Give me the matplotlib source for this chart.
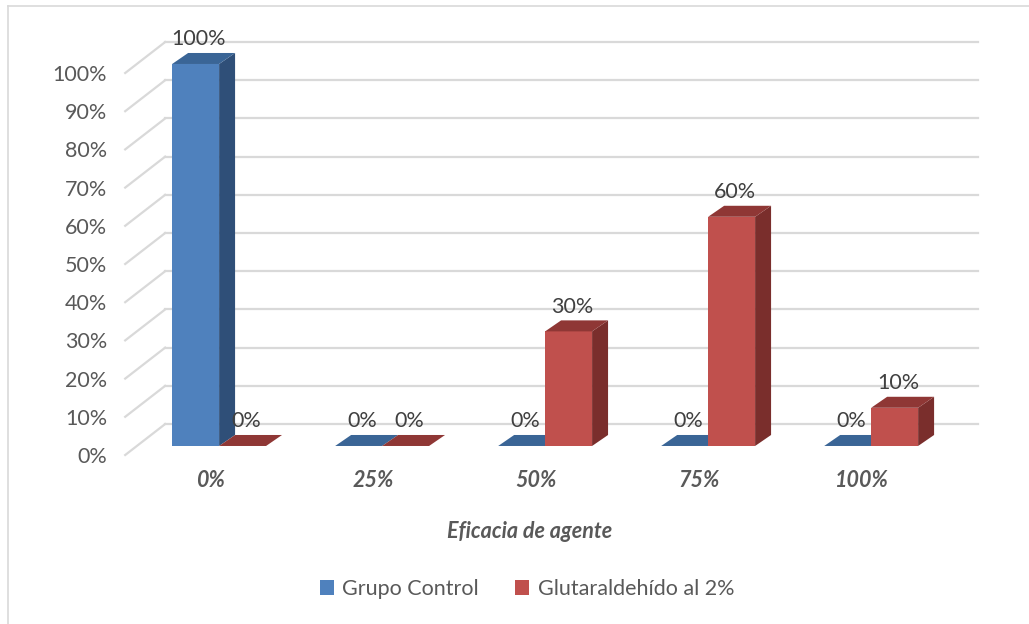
import matplotlib
matplotlib.use("Agg")
import matplotlib.pyplot as plt
from matplotlib.patches import Polygon, Patch
from matplotlib.lines import Line2D

# Data
categories = ["0%", "25%", "50%", "75%", "100%"]
grupo_control = [100, 0, 0, 0, 0]
glutaraldehido = [0, 0, 30, 60, 10]
series_names = ["Grupo Control", "Glutaraldehído al 2%"]
y_ticks = [0, 10, 20, 30, 40, 50, 60, 70, 80, 90, 100]

plt.rcParams['font.family'] = ['Lato', 'DejaVu Sans']

# 3D look parameters (data units: x = category, y = percent)
WALL_DX, WALL_DY = 0.245, 8.1     # depth of side wall
BAR_DX0, BAR_DY0 = 0.056, 2.36    # bar front plane offset from floor front
BAR_DX, BAR_DY = 0.098, 2.88      # bar depth
BAR_W = 0.288
X_LEFT, X_RIGHT = -0.52, 4.85
WALL_RIGHT = 4.71

GRID = "#d9d9d9"
TXT = "#595959"
LBL = "#404040"
BLUE = ("#4f81bd", "#3a6596", "#2f4f78")   # front, top, side
RED = ("#c0504d", "#8f3735", "#7a2e2c")

fig = plt.figure(figsize=(10.29, 6.24), dpi=100)
ax = fig.add_axes([125.2 / 1029, (624 - 455) / 624, 875.4 / 1029, 382 / 624])
ax.set_xlim(X_LEFT, X_RIGHT)
ax.set_ylim(0, 100)
for s in ax.spines.values():
    s.set_visible(False)

# back wall gridlines + side wall diagonals
for y in y_ticks:
    ax.add_line(Line2D([X_LEFT + WALL_DX, WALL_RIGHT], [y + WALL_DY, y + WALL_DY],
                       color=GRID, lw=1.6, clip_on=False, zorder=1))
    ax.add_line(Line2D([X_LEFT, X_LEFT + WALL_DX], [y, y + WALL_DY],
                       color=GRID, lw=1.6, clip_on=False, zorder=1))


def bar3d(x0, h, cols):
    front, top, side = cols
    b = BAR_DY0
    faces = []
    if h > 0:
        faces.append(([(x0, b), (x0 + BAR_W, b), (x0 + BAR_W, b + h), (x0, b + h)], front))
        faces.append(([(x0 + BAR_W, b), (x0 + BAR_W + BAR_DX, b + BAR_DY),
                       (x0 + BAR_W + BAR_DX, b + h + BAR_DY), (x0 + BAR_W, b + h)], side))
    faces.append(([(x0, b + h), (x0 + BAR_W, b + h), (x0 + BAR_W + BAR_DX, b + h + BAR_DY),
                   (x0 + BAR_DX, b + h + BAR_DY)], top))
    for pts, c in faces:
        ax.add_patch(Polygon(pts, closed=True, facecolor=c, edgecolor="none",
                             clip_on=False, zorder=3))
    ax.text(x0 + BAR_W / 2 + 0.02, b + h + BAR_DY + 3.6, f"{h}%", ha="center",
            va="center", fontsize=15.5, color=LBL, zorder=5, clip_on=False)


for i in range(len(categories)):
    bar3d(i + BAR_DX0 - BAR_W, grupo_control[i], BLUE)
    bar3d(i + BAR_DX0, glutaraldehido[i], RED)

ax.set_yticks(y_ticks)
ax.set_yticklabels([f"{v}%" for v in y_ticks])
ax.set_xticks(range(len(categories)))
ax.set_xticklabels(categories, fontweight="bold", fontstyle="italic")
ax.tick_params(axis="y", length=0, pad=13, labelsize=15.5, labelcolor=TXT)
ax.tick_params(axis="x", length=0, pad=11, labelsize=15.5, labelcolor=TXT)

fig.text(530 / 1029, 1 - 531 / 624, "Eficacia de agente", ha="center", va="center",
         fontsize=15.5, fontweight="bold", fontstyle="italic", color=TXT)

handles = [Patch(facecolor=BLUE[0]), Patch(facecolor=RED[0])]
fig.legend(handles, series_names, loc="center", bbox_to_anchor=(527 / 1029, 1 - 589 / 624),
           ncol=2, frameon=False, fontsize=15.5, labelcolor=TXT,
           handlelength=0.65, handleheight=0.65, handletextpad=0.4, columnspacing=1.7)

# chart border (top and left visible)
fig.add_artist(Line2D([8 / 1029, 1.0], [1 - 6 / 624, 1 - 6 / 624], color=GRID, lw=1.2,
                      transform=fig.transFigure))
fig.add_artist(Line2D([8 / 1029, 8 / 1029], [0, 1 - 6 / 624], color=GRID, lw=1.2,
                      transform=fig.transFigure))

fig.savefig("out.png", dpi=100)
